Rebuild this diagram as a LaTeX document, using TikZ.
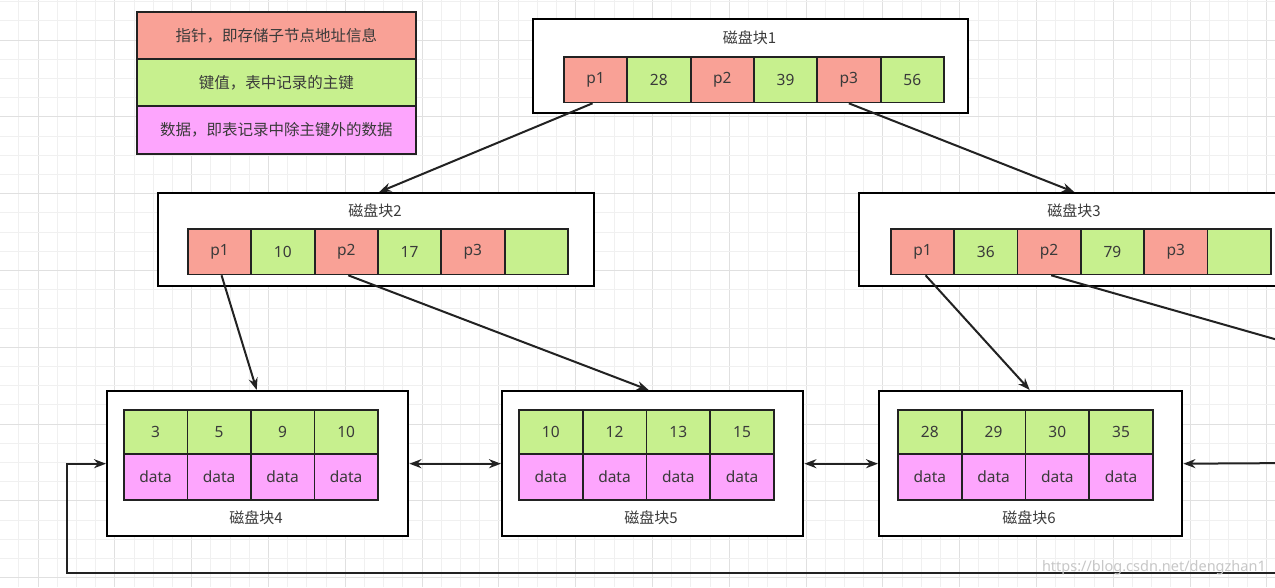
\documentclass[tikz,border=0pt]{standalone}
\usepackage{fontspec}
\setmainfont{Noto Sans}
\newfontfamily\cjk{Noto Sans CJK SC}
\usetikzlibrary{arrows.meta}
\definecolor{ptr}{HTML}{F9A196}
\definecolor{key}{HTML}{C7F08E}
\definecolor{dat}{HTML}{FDA5FD}
\definecolor{edge}{HTML}{222222}
\definecolor{gridminor}{HTML}{F0F0F0}
\definecolor{gridmajor}{HTML}{E0E0E0}
\definecolor{txt}{HTML}{3A3A3A}
\begin{document}
\begin{tikzpicture}[x=1pt,y=-1pt,
  cellbase/.style={draw=edge, line width=1.8pt, minimum width=63.3pt, minimum height=45.5pt, inner sep=0pt, anchor=north west, text=txt, font=\fontsize{15.5}{17}\selectfont},
  pcell/.style={cellbase, fill=ptr},
  kcell/.style={cellbase, fill=key},
  dcell/.style={cellbase, fill=dat},
  block/.style={draw=black, line width=2.4pt, fill=white, inner sep=0pt, anchor=north west},
  btitle/.style={text=txt, font=\cjk\fontsize{15}{17}\selectfont, inner sep=0pt},
  legend/.style={draw=edge, line width=1.8pt, minimum width=279pt, inner sep=0pt, anchor=north west, text=txt, font=\cjk\fontsize{15.5}{17}\selectfont},
  arr/.style={draw=edge, line width=2pt, -{Stealth[length=12pt,width=9pt]}},
  darr/.style={draw=edge, line width=2pt, {Stealth[length=12pt,width=9pt]}-{Stealth[length=12pt,width=9pt]}},
  line/.style={draw=edge, line width=2pt}
]
\useasboundingbox (0,0) rectangle (1275,587);
\clip (0,0) rectangle (1275,587);
\fill[white] (0,0) rectangle (1275,587);
% grid
\foreach \k in {-2,...,66} {
  \pgfmathsetmacro{\gx}{38+19.2*\k}
  \pgfmathtruncatemacro{\m}{mod(\k+200,4)}
  \ifnum\m=0
    \draw[gridmajor, line width=1pt] (\gx,0) -- (\gx,587);
  \else
    \draw[gridminor, line width=0.8pt] (\gx,0) -- (\gx,587);
  \fi
}
\foreach \k in {-3,...,30} {
  \pgfmathsetmacro{\gy}{40+19.2*\k}
  \pgfmathtruncatemacro{\m}{mod(\k+200,4)}
  \ifnum\m=0
    \draw[gridmajor, line width=1pt] (0,\gy) -- (1275,\gy);
  \else
    \draw[gridminor, line width=0.8pt] (0,\gy) -- (1275,\gy);
  \fi
}

% legend
\node[legend, fill=ptr, minimum height=47pt] (lg1) at (136,11) {指针，即存储子节点地址信息};
\node[legend, fill=key, minimum height=47pt] (lg2) at (136,58) {键值，表中记录的主键};
\node[legend, fill=dat, minimum height=48pt] (lg3) at (136,105) {数据，即表记录中除主键外的数据};

% block 1
\node[block, minimum width=435pt, minimum height=94pt] (b1) at (532,18) {};
\node[btitle] (t1) at (749.5,38) {磁盘块1};
\node[pcell] (b1c1) at (563,56) {p1};
\node[kcell] (b1c2) at (626.3,56) {28};
\node[pcell] (b1c3) at (689.7,56) {p2};
\node[kcell] (b1c4) at (753,56) {39};
\node[pcell] (b1c5) at (816.3,56) {p3};
\node[kcell] (b1c6) at (879.7,56) {56};

% block 2
\node[block, minimum width=436pt, minimum height=93pt] (b2) at (157,192) {};
\node[btitle] (t2) at (375,211) {磁盘块2};
\node[pcell] (b2c1) at (187,228) {p1};
\node[kcell] (b2c2) at (250.3,228) {10};
\node[pcell] (b2c3) at (313.7,228) {p2};
\node[kcell] (b2c4) at (377,228) {17};
\node[pcell] (b2c5) at (440.3,228) {p3};
\node[kcell] (b2c6) at (503.7,228) {};

% block 3
\node[block, minimum width=436pt, minimum height=93pt] (b3) at (858,192) {};
\node[btitle] (t3) at (1074,211) {磁盘块3};
\node[pcell] (b3c1) at (890,228) {p1};
\node[kcell] (b3c2) at (953.3,228) {36};
\node[pcell] (b3c3) at (1016.6,228) {p2};
\node[kcell] (b3c4) at (1079.9,228) {79};
\node[pcell] (b3c5) at (1143.2,228) {p3};
\node[kcell] (b3c6) at (1206.5,228) {};

% block 4
\node[block, minimum width=301pt, minimum height=145pt] (b4) at (106,390) {};
\node[btitle] (t4) at (256,518) {磁盘块4};
\node[kcell, minimum width=63.5pt, minimum height=44pt] (b4k1) at (123,409) {3};
\node[kcell, minimum width=63.5pt, minimum height=44pt] (b4k2) at (186.5,409) {5};
\node[kcell, minimum width=63.5pt, minimum height=44pt] (b4k3) at (250,409) {9};
\node[kcell, minimum width=63.5pt, minimum height=44pt] (b4k4) at (313.5,409) {10};
\node[dcell, minimum width=63.5pt, minimum height=46pt] (b4d1) at (123,453) {data};
\node[dcell, minimum width=63.5pt, minimum height=46pt] (b4d2) at (186.5,453) {data};
\node[dcell, minimum width=63.5pt, minimum height=46pt] (b4d3) at (250,453) {data};
\node[dcell, minimum width=63.5pt, minimum height=46pt] (b4d4) at (313.5,453) {data};

% block 5
\node[block, minimum width=301pt, minimum height=145pt] (b5) at (501,390) {};
\node[btitle] (t5) at (651,518) {磁盘块5};
\node[kcell, minimum width=63.75pt, minimum height=44pt] (b5k1) at (518,409) {10};
\node[kcell, minimum width=63.75pt, minimum height=44pt] (b5k2) at (581.75,409) {12};
\node[kcell, minimum width=63.75pt, minimum height=44pt] (b5k3) at (645.5,409) {13};
\node[kcell, minimum width=63.75pt, minimum height=44pt] (b5k4) at (709.25,409) {15};
\node[dcell, minimum width=63.75pt, minimum height=46pt] (b5d1) at (518,453) {data};
\node[dcell, minimum width=63.75pt, minimum height=46pt] (b5d2) at (581.75,453) {data};
\node[dcell, minimum width=63.75pt, minimum height=46pt] (b5d3) at (645.5,453) {data};
\node[dcell, minimum width=63.75pt, minimum height=46pt] (b5d4) at (709.25,453) {data};

% block 6
\node[block, minimum width=303pt, minimum height=145pt] (b6) at (878,390) {};
\node[btitle] (t6) at (1029,518) {磁盘块6};
\node[kcell, minimum width=63.75pt, minimum height=44pt] (b6k1) at (897,409) {28};
\node[kcell, minimum width=63.75pt, minimum height=44pt] (b6k2) at (960.75,409) {29};
\node[kcell, minimum width=63.75pt, minimum height=44pt] (b6k3) at (1024.5,409) {30};
\node[kcell, minimum width=63.75pt, minimum height=44pt] (b6k4) at (1088.25,409) {35};
\node[dcell, minimum width=63.75pt, minimum height=46pt] (b6d1) at (897,453) {data};
\node[dcell, minimum width=63.75pt, minimum height=46pt] (b6d2) at (960.75,453) {data};
\node[dcell, minimum width=63.75pt, minimum height=46pt] (b6d3) at (1024.5,453) {data};
\node[dcell, minimum width=63.75pt, minimum height=46pt] (b6d4) at (1088.25,453) {data};

% pointer arrows
\draw[arr] ([xshift=-3pt]b1c1.south) -- ([xshift=3pt]b2.north);
\draw[arr] (b1c5.south) -- ([xshift=-3pt]b3.north);
\draw[arr] ([xshift=2pt]b2c1.south) -- ([xshift=-1pt]b4.north);
\draw[arr] ([xshift=2pt]b2c3.south) -- ([xshift=-4pt]b5.north);
\draw[arr] ([xshift=3pt]b3c1.south) -- ([xshift=-1pt]b6.north);
\coordinate (off3) at (1320,352);
\draw[line] ([xshift=2pt]b3c3.south) -- (off3);

% leaf links
\draw[darr] (b4.east) -- (b5.west);
\draw[darr] (b5.east) -- (b6.west);
\coordinate (offr) at (1300,463);
\draw[arr] (offr) -- (b6.east);
\coordinate (lc1) at (67,573);
\coordinate (offb) at (1300,573);
\draw[arr] (offb) -- (lc1) -- (lc1 |- b4.west) -- (b4.west);

% watermark
\node[text=black!22, font=\fontsize{14.5}{16}\selectfont, anchor=east, inner sep=0pt] (wm) at (1266,568) {https://blog.csdn.net/dengzhan1};
\end{tikzpicture}
\end{document}
